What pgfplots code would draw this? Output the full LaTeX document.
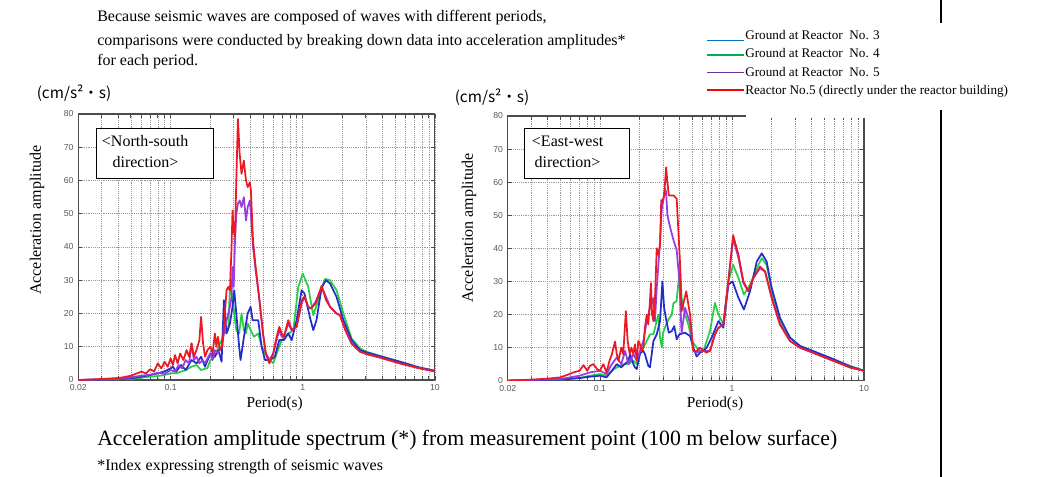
\documentclass[border=0pt]{standalone}
\usepackage{fontspec}
\setmainfont{Liberation Serif}
\newfontfamily\tickfont{Liberation Sans}
\newfontfamily\cjk{Noto Sans CJK JP}
\usepackage{pgfplots}
\usepackage{pgfplotstable}
\pgfplotsset{compat=1.18}

\definecolor{cthree}{RGB}{35,45,205}
\definecolor{cfour}{RGB}{40,205,70}
\definecolor{cfive}{RGB}{150,60,225}
\definecolor{cred}{RGB}{235,25,35}
\definecolor{lthree}{RGB}{0,112,192}
\definecolor{lfour}{RGB}{0,176,80}
\definecolor{lfive}{RGB}{112,48,160}
\definecolor{lred}{RGB}{255,0,0}

% North-south direction
\pgfplotstableread{
T A
0.02 0
0.05 0.3
0.07 1
0.08 1.2
0.09 1.5
0.1 2
0.11 2
0.12 2.5
0.13 3
0.144 4
0.157 4.5
0.17 3
0.19 3.6
0.2 6
0.216 7
0.23 10
0.243 12
0.253 14
0.273 15
0.281 28
0.294 25
0.303 20
0.314 15
0.33 14
0.344 20
0.358 15
0.372 14
0.383 17
0.403 15
0.427 13
0.46 14
0.49 10
0.52 8
0.565 6
0.598 5
0.634 8
0.692 12
0.776 14
0.848 15
0.925 28
1.0 32
1.10 28
1.20 19.5
1.31 24
1.47 30.4
1.61 30
1.80 27
2.03 20
2.34 12.5
2.71 9.5
3.04 8.5
3.8 7.3
5.43 5.5
7.71 3.7
10 2.8
}\nsfour
\pgfplotstableread{
T A
0.02 0
0.04 0.2
0.05 0.5
0.06 1
0.07 1.5
0.08 2
0.09 2.6
0.1 3.5
0.104 4
0.11 2.5
0.12 4.5
0.13 3
0.144 6
0.157 5
0.17 7
0.182 4
0.2 8
0.216 7
0.23 9
0.243 5.5
0.253 24
0.265 14
0.281 17
0.294 22
0.303 27
0.314 20
0.33 10
0.338 6
0.35 10
0.365 15
0.383 20
0.403 22
0.417 18
0.437 18
0.46 18
0.488 10
0.518 6
0.565 6
0.615 7
0.664 12
0.72 12
0.776 14
0.824 12
0.898 18
0.98 27
1.03 26
1.13 19
1.20 15
1.27 18
1.39 28
1.50 30
1.61 29
1.80 25
2.03 18
2.34 12
2.71 9
3.04 8.3
3.8 7.2
5.43 5.5
7.71 3.7
10 2.8
}\nsthree
\pgfplotstableread{
T A
0.02 0
0.04 0.3
0.05 0.8
0.06 1.3
0.07 1.6
0.08 2.2
0.09 1.8
0.1 3
0.108 2.5
0.115 4.5
0.122 3.5
0.13 6
0.138 5
0.144 11
0.150 6
0.157 7
0.165 5
0.175 6
0.182 5
0.19 6.5
0.2 8
0.208 6
0.216 9
0.228 8
0.243 10
0.253 14
0.265 18
0.281 22
0.289 25
0.294 34
0.300 28
0.307 42
0.314 50
0.323 53
0.333 54
0.344 52
0.358 55
0.372 48
0.383 52
0.398 54
0.405 50
0.42 40
0.44 33
0.47 24
0.50 14
0.525 8
0.558 6
0.598 8
0.634 12
0.664 15
0.692 13
0.72 13
0.776 17
0.824 15
0.898 16
0.98 23
1.03 25
1.10 22
1.15 21.5
1.25 23.5
1.39 28
1.50 25
1.61 22
1.80 20
1.91 19.5
2.1 15
2.34 11
2.71 8.5
3.04 7.8
3.8 6.8
5.43 5
7.71 3.5
10 2.6
}\nsfive
\pgfplotstableread{
T A
0.02 0
0.03 0.3
0.04 0.6
0.045 0.9
0.05 1.3
0.06 2.5
0.065 2
0.07 3.2
0.075 2.6
0.08 5
0.085 3.5
0.09 5.5
0.095 4
0.1 6.5
0.104 4.5
0.108 7.5
0.113 5
0.118 8
0.125 6
0.132 9
0.138 7
0.144 11
0.150 7
0.157 9
0.165 12
0.170 19
0.176 11
0.182 7
0.19 9
0.2 10
0.208 8
0.216 14
0.222 10
0.228 13
0.236 9
0.246 10
0.253 16
0.265 27
0.273 28
0.281 27
0.289 40
0.294 51
0.300 45
0.307 43
0.314 60
0.323 78.5
0.333 68
0.344 62
0.358 66
0.372 60
0.383 58
0.398 59.5
0.405 57
0.42 42
0.44 34
0.47 24
0.50 14
0.525 8
0.558 5
0.598 8
0.634 13
0.664 16
0.692 14
0.72 13
0.776 18
0.824 15
0.898 16
0.98 24
1.03 25
1.10 22
1.15 21.5
1.25 23
1.39 28.3
1.50 24
1.61 22
1.80 20
1.91 19.5
2.1 15
2.34 11
2.71 8.5
3.04 7.8
3.8 6.8
5.43 5
7.71 3.5
10 2.6
}\nsred

% East-west direction
\pgfplotstableread{
T A
0.02 0
0.05 0.3
0.07 0.8
0.084 1.5
0.1 2
0.112 1.5
0.123 3
0.134 4
0.150 5
0.164 5
0.179 6
0.190 5
0.201 8
0.213 10
0.226 12
0.239 14
0.254 14
0.269 18
0.277 20
0.285 13
0.294 10
0.30 14.4
0.317 17
0.33 18.5
0.350 20
0.360 23.4
0.38 24
0.404 34.4
0.415 25
0.43 22
0.441 20
0.467 17
0.496 12
0.540 10
0.573 9
0.607 9
0.643 12
0.681 15
0.743 23.5
0.789 20
0.860 17
0.938 30
1.02 35
1.12 31
1.23 26
1.37 29
1.54 34
1.68 37
1.83 35
2.0 27
2.31 18
2.75 13
3.27 10.5
4.38 8.5
5.86 6.5
7.83 4.5
10 3
}\ewfour
\pgfplotstableread{
T A
0.02 0
0.05 0.3
0.07 0.8
0.084 1.2
0.1 1.5
0.112 1
0.123 3
0.134 5
0.145 4
0.150 4.6
0.164 6
0.169 8
0.179 5
0.184 4
0.190 3.5
0.201 8.3
0.213 9
0.219 8
0.232 4.5
0.239 4
0.254 12
0.269 14
0.285 18
0.297 30
0.306 22
0.317 18.5
0.332 14.5
0.350 15
0.365 16.5
0.381 12.5
0.399 14
0.441 14.5
0.481 13.5
0.509 10
0.540 7.3
0.573 8.5
0.607 9
0.643 10
0.701 13
0.789 18
0.860 16
0.938 29
1.01 30
1.12 25
1.23 21.5
1.37 27
1.54 36
1.68 38.5
1.83 36
2.0 28
2.31 19
2.75 13
3.27 10.5
4.38 8.5
5.86 6.5
7.83 4.3
10 3
}\ewthree
\pgfplotstableread{
T A
0.02 0
0.05 0.5
0.07 1.5
0.084 2.5
0.1 3
0.112 2
0.123 5
0.134 7
0.145 5
0.155 9
0.164 5
0.179 8
0.190 6
0.201 9
0.213 12
0.226 18
0.239 22
0.254 25
0.261 18
0.269 28
0.277 35
0.285 42
0.294 52
0.306 56
0.311 58
0.317 57
0.324 50
0.339 46.5
0.360 42.5
0.381 39.5
0.399 30.4
0.415 14.4
0.441 22
0.481 17.4
0.509 9
0.540 8.5
0.573 9
0.643 9
0.681 9
0.743 14
0.789 16
0.860 17
0.938 30
1.02 43
1.12 37
1.22 29.5
1.33 27
1.45 31
1.63 34
1.78 33
2.0 25
2.31 17
2.75 12
3.27 10
4.38 8
5.86 6
7.83 4
10 3
}\ewfive
\pgfplotstableread{
T A
0.02 0
0.03 0.3
0.04 0.6
0.05 1
0.056 1.7
0.063 2.5
0.07 3
0.075 4.7
0.08 3
0.084 4.5
0.089 5
0.095 3.5
0.1 3
0.106 5
0.112 2.5
0.118 6
0.123 8
0.130 11.8
0.134 8
0.138 6
0.145 10
0.150 8
0.157 21
0.162 12
0.168 8
0.173 10
0.179 8
0.184 11
0.190 6
0.195 12
0.201 11
0.207 9
0.213 10
0.219 16
0.226 20
0.232 17
0.239 24
0.243 29.5
0.248 20
0.254 18
0.261 25
0.269 40
0.277 38
0.285 41
0.291 54.6
0.297 54
0.306 56
0.317 64.5
0.324 60
0.332 56
0.345 56
0.360 56
0.381 55
0.404 35.5
0.415 21
0.45 27
0.481 20
0.509 9
0.540 9
0.573 10
0.607 9
0.643 8.5
0.681 9
0.743 14
0.789 16
0.860 17
0.938 30
1.02 44
1.12 38
1.22 30
1.33 27
1.45 31
1.63 34.5
1.78 33
2.0 25
2.31 17
2.75 12
3.27 10
4.38 8
5.86 6
7.83 4
10 3
}\ewred

\pgfplotsset{
  myspec/.style={
    xmin=0.02, xmax=10, ymin=0, ymax=80,
    scale only axis,
    xtick={0.02,0.1,1,10}, xticklabels={0.02,0.1,1,10},
    minor xtick={0.03,0.04,0.05,0.06,0.07,0.08,0.09,0.2,0.3,0.4,0.5,0.6,0.7,0.8,0.9,2,3,4,5,6,7,8,9},
    ytick={0,10,...,80},
    grid=both,
    major grid style={densely dotted, draw=black!40, line width=0.45pt},
    minor grid style={densely dotted, draw=black!40, line width=0.45pt},
    tick align=inside, major tick length=3pt, minor tick length=3pt,
    axis line style={draw=black!70, line width=0.8pt},
    tick style={draw=black!70, line width=0.6pt},
    ticklabel style={font=\tickfont\fontsize{6.5}{7}\selectfont, text=black!65},
    /pgf/number format/assume math mode=true,
    every axis plot/.append style={line width=1.3pt, line join=round, mark=none},
  },
}

\begin{document}
\begin{tikzpicture}
\useasboundingbox (0,0) rectangle (781.5pt,-357.75pt);

\begin{axis}[xmode=log, myspec, at={(58.7pt,-285pt)}, anchor=south west, width=267.5pt, height=199.5pt]
\addplot[cfour] table {\nsfour};
\addplot[cthree] table {\nsthree};
\addplot[cfive] table {\nsfive};
\addplot[cred] table {\nsred};
\end{axis}

\begin{axis}[xmode=log, myspec, at={(380.8pt,-285.5pt)}, anchor=south west, width=267.2pt, height=198.5pt]
\addplot[cfour] table {\ewfour};
\addplot[cthree] table {\ewthree};
\addplot[cfive] table {\ewfive};
\addplot[cred] table {\ewred};
\end{axis}

\begin{scope}[x=0.75pt, y=-0.75pt]
% gap in right axis top border
\fill[white] (746,113.5) rectangle (866,118.5);

% top text
\begin{scope}[every node/.style={anchor=west, inner sep=0pt, font=\fontsize{12}{13}\selectfont}]
\node at (97,18) {Because seismic waves are composed of waves with different periods,};
\node at (97,41.5) {comparisons were conducted by breaking down data into acceleration amplitudes*};
\node at (97,61.5) {for each period.};
\end{scope}

% legend
\foreach \c/\yl/\yt/\txt in {lthree/40.5/35.5/{Ground at Reactor\ \ No. 3},
                             lfour/55/53.5/{Ground at Reactor\ \ No. 4},
                             lfive/72.5/72.5/{Ground at Reactor\ \ No. 5},
                             lred/90/91.5/{Reactor No.5 (directly under the reactor building)}} {
  \draw[\c, line width=1.4pt] (707,\yl) -- (744,\yl);
  \node[anchor=west, inner sep=0pt, font=\fontsize{9.9}{11}\selectfont] at (745,\yt) {\txt};
}

% units
\node[font=\cjk\fontsize{11.5}{12}\selectfont, inner sep=0pt] at (74,92.7) {(cm/s²・s)};
\node[font=\cjk\fontsize{11.5}{12}\selectfont, inner sep=0pt] at (492,96.7) {(cm/s²・s)};

% y labels
\node[rotate=90, font=\fontsize{12}{13}\selectfont, inner sep=0pt] at (37,220) {Acceleration amplitude};
\node[rotate=90, font=\fontsize{12}{13}\selectfont, inner sep=0pt] at (469,228) {Acceleration amplitude};

% x labels
\node[font=\fontsize{11.5}{13}\selectfont, inner sep=0pt] at (274.7,404) {Period(s)};
\node[font=\fontsize{11.5}{13}\selectfont, inner sep=0pt] at (715,404) {Period(s)};

% direction boxes
\draw[fill=white, line width=0.9pt] (96.7,128.3) rectangle (213.3,178.3);
\node[anchor=west, inner sep=0pt, font=\fontsize{12}{13}\selectfont] at (101.7,140.7) {<North-south};
\node[anchor=west, inner sep=0pt, font=\fontsize{12}{13}\selectfont] at (112.3,161.7) {direction>};
\draw[fill=white, line width=0.9pt] (524.3,128.3) rectangle (629.3,178.3);
\node[anchor=west, inner sep=0pt, font=\fontsize{12}{13}\selectfont] at (531.7,141) {<East-west};
\node[anchor=west, inner sep=0pt, font=\fontsize{12}{13}\selectfont] at (534.3,161.7) {direction>};

% caption
\node[anchor=west, inner sep=0pt, font=\fontsize{16.3}{18}\selectfont] at (97,440) {Acceleration amplitude spectrum (*) from measurement point (100 m below surface)};
\node[anchor=west, inner sep=0pt, font=\fontsize{12}{13}\selectfont] at (97,467) {*Index expressing strength of seismic waves};

% page rule
\draw[line width=1.3pt] (941,0) -- (941,23);
\draw[line width=1.3pt] (941,110) -- (941,477);
\end{scope}
\end{tikzpicture}
\end{document}
